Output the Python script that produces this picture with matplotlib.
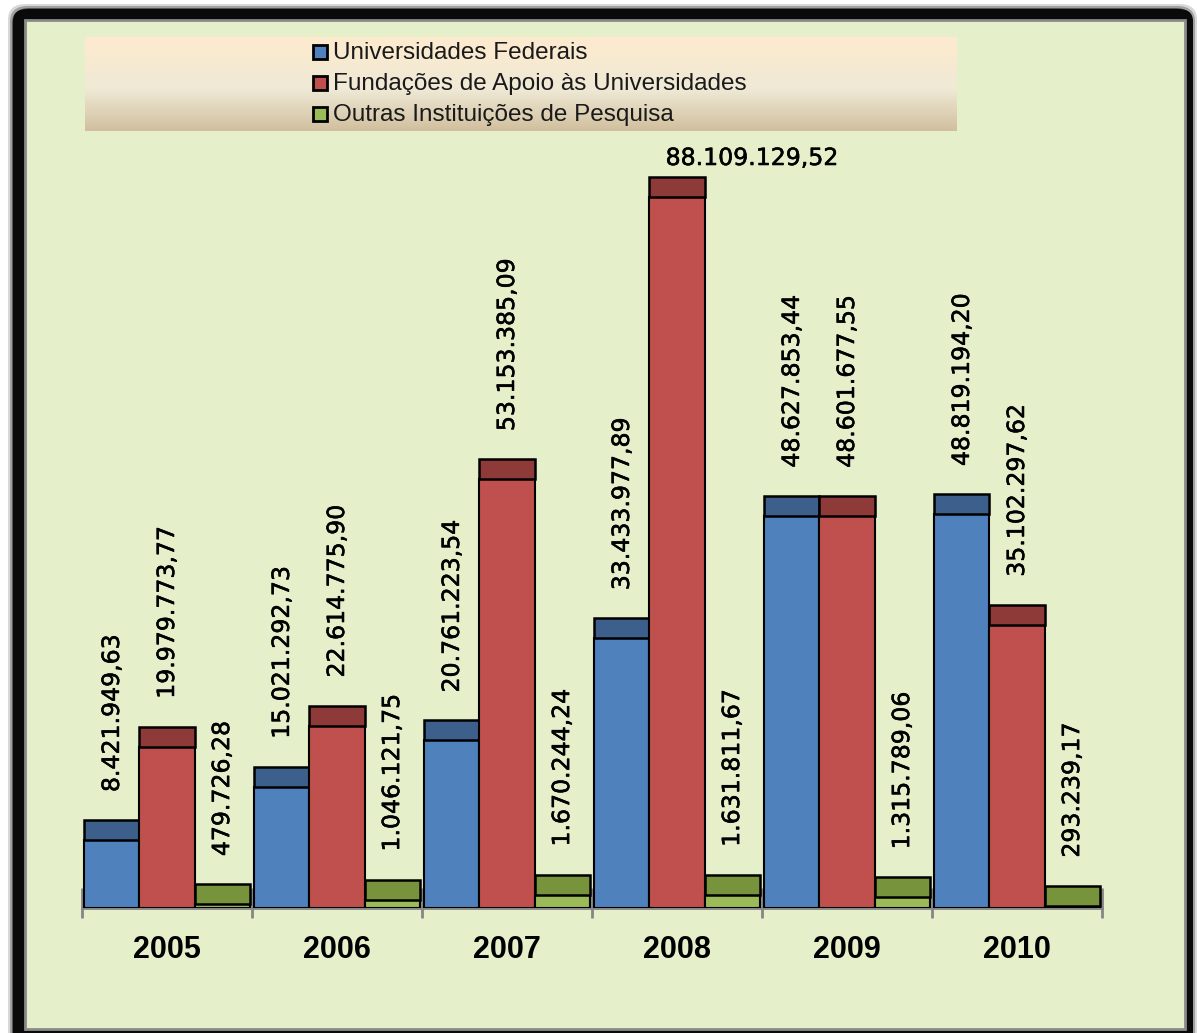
import numpy as np
import matplotlib.pyplot as plt
import matplotlib.patheffects as pe
from matplotlib.patches import Rectangle, FancyBboxPatch
from matplotlib.colors import LinearSegmentedColormap

# data
anos = ["2005", "2006", "2007", "2008", "2009", "2010"]
series = ["Universidades Federais",
          "Fundações de Apoio às Universidades",
          "Outras Instituições de Pesquisa"]
univ_federais = [8421949.63, 15021292.73, 20761223.54, 33433977.89, 48627853.44, 48819194.20]
fundacoes = [19979773.77, 22614775.90, 53153385.09, 88109129.52, 48601677.55, 35102297.62]
outras = [479726.28, 1046121.75, 1670244.24, 1631811.67, 1315789.06, 293239.17]

front_cols = ["#4F81BD", "#C0504D", "#9BBB59"]
top_cols = ["#3C5F8C", "#8E3A38", "#77933C"]

W, H = 1197, 1033
fig = plt.figure(figsize=(W / 100, H / 100), dpi=100)
fig.patch.set_facecolor("white")

def fx(x):
    return x / W

def fy(y):
    return 1 - y / H

# frame with soft shadow (drawn beneath the axes)
for pad, col in [(0, "#d8d8d8"), (2, "#a0a0a0"), (4, "#555555")]:
    fig.patches.append(FancyBboxPatch((fx(8 + pad), fy(1050)), fx(1189 - 2 * pad), fy(4 + pad) - fy(1050),
                                      boxstyle="round,pad=0,rounding_size=0.015",
                                      transform=fig.transFigure, facecolor=col, edgecolor="none", zorder=-3))
fig.patches.append(FancyBboxPatch((fx(13), fy(1050)), fx(1180), fy(9) - fy(1050),
                                  boxstyle="round,pad=0,rounding_size=0.012",
                                  transform=fig.transFigure, facecolor="#0a0a0a", edgecolor="none", zorder=-2))
fig.patches.append(Rectangle((fx(25), fy(1029)), fx(1160), fy(20) - fy(1029),
                             transform=fig.transFigure, facecolor="#E5F0CB", edgecolor="#8a8a8a",
                             linewidth=2, zorder=-1))

# legend box with gradient
leg_ax = fig.add_axes([fx(85), fy(131), fx(872), fy(37) - fy(131)])
grad = LinearSegmentedColormap.from_list("g", [(0, "#D1C09E"), (0.45, "#EFE9D6"), (1, "#FEEBCE")])
leg_ax.imshow(np.linspace(0, 1, 100).reshape(-1, 1), aspect="auto", cmap=grad,
              extent=(0, 1, 0, 1), origin="lower")
leg_ax.set_axis_off()
for i, name in enumerate(series):
    yc = 52 + i * 31
    fig.patches.append(Rectangle((fx(313), fy(yc + 7)), fx(14), fy(yc - 7) - fy(yc + 7),
                                 transform=fig.transFigure, facecolor=front_cols[i],
                                 edgecolor="black", linewidth=2, zorder=5))
    fig.text(fx(333), fy(yc + 1), name, fontsize=17.5, family="Liberation Sans",
             color="#1a1a1a", va="center", ha="left", zorder=5)

# main chart
ax = fig.add_axes([fx(82), fy(908), fx(1020), fy(140) - fy(908)])
ax.set_facecolor("none")
ymax = 88109129.52 * (908 - 140) / (908 - 197)
ax.set_ylim(0, ymax)
ax.set_xlim(0, len(anos))
per_px = ymax / (908 - 140)
cap_h = 20 * per_px
gap = 28 * per_px
thick = [pe.withStroke(linewidth=0.4, foreground="black")]

bw = 0.324
vals = [univ_federais, fundacoes, outras]
x = np.arange(len(anos)) + 0.5
for k, v in enumerate(vals):
    v = np.array(v)
    xs = x + (k - 1) * bw
    ax.bar(xs, v, width=bw, color=front_cols[k], edgecolor="black", linewidth=1.5, zorder=3)
    ax.bar(xs, cap_h, bottom=v, width=bw, color=top_cols[k], edgecolor="black", linewidth=1.8, zorder=3)
    for xi, vi in zip(xs, v):
        lab = f"{vi:,.2f}".replace(",", "X").replace(".", ",").replace("X", ".")
        if vi == max(fundacoes):
            ax.text(xi + 0.44, vi + cap_h + 7 * per_px, lab, fontsize=17, ha="center", va="bottom",
                    color="black", zorder=4, path_effects=thick)
        else:
            ax.text(xi, vi + cap_h + gap, lab, fontsize=17, rotation=90, ha="center", va="bottom",
                    color="black", zorder=4, path_effects=thick)

for s in ["top", "right", "left"]:
    ax.spines[s].set_visible(False)
ax.spines["bottom"].set_color("#868686")
ax.spines["bottom"].set_linewidth(2)
ax.set_yticks([])
ax.set_xticks([])
ax.vlines(np.arange(len(anos) + 1), -10 * per_px, 20 * per_px, colors="#868686",
          linewidth=2, clip_on=False, zorder=2)
for xi, a in zip(x, anos):
    ax.text(xi, -42 * per_px, a, fontsize=22, fontweight="bold", family="Liberation Sans",
            ha="center", va="center", color="black")

fig.savefig("out.png", dpi=100)
